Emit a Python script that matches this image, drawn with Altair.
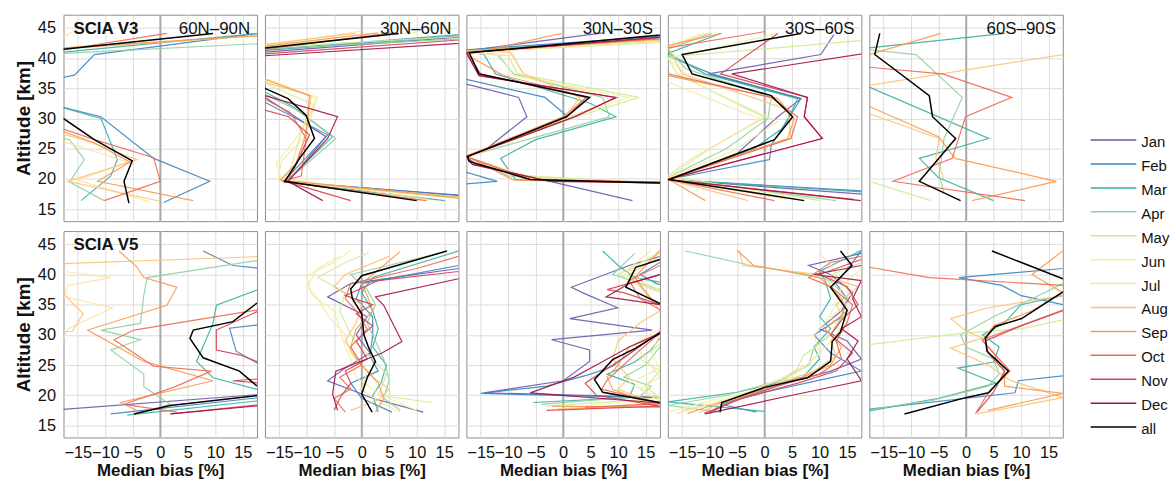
import altair as alt
import pandas as pd

# ---- categories and styling lists -------------------------------------------
months = ["Jan", "Feb", "Mar", "Apr", "May", "Jun", "Jul", "Aug", "Sep", "Oct", "Nov", "Dec", "all"]
month_colors = ["#6a58ad", "#3a84c0", "#3aae9f", "#8fd0a0", "#d2ea92", "#edf29c", "#fbe3a2",
                "#fcc372", "#f8984c", "#ec6a52", "#d5404f", "#a30f47", "#000000"]
regions = ["60N\u201390N", "30N\u201360N", "30N\u201330S", "30S\u201360S", "60S\u201390S"]
versions = ["SCIA V3", "SCIA V5"]
x_ticks = [-15, -10, -5, 0, 5, 10, 15]
y_ticks = [15, 20, 25, 30, 35, 40, 45]
zero_bias = [0]

# ---- median bias profiles: month -> [[bias %, altitude km], ...] -------------
v3_60n_90n = {
    "Feb": [[0.6, 16.1], [9.0, 19.6], [-1.2, 23.4], [-10.8, 30.3], [-17.5, 31.8], [-30, 33.0], [-30, 34.5], [-15.6, 37.2], [-12.0, 40.6], [22, 44.6]],
    "Mar": [[-14.4, 16.4], [-9.0, 20.5], [-7.8, 23.2], [-10.8, 30.0], [-18.0, 31.9], [-30, 33], [-30, 39], [-17.6, 41.0], [20, 44.3]],
    "Apr": [[-10.2, 16.4], [-16.5, 19.5], [-13.8, 23.2], [-16.5, 26.5], [-30, 29], [-30, 39], [-17.6, 40.8], [22, 42.6]],
    "Jul": [[-2, 16.2], [-15, 19.8], [-6, 22.8], [-17, 26], [-30, 28], [-30, 40], [-18, 43.2], [-16, 44.4]],
    "Aug": [[0, 16.3], [-16.8, 19.6], [-4.2, 23.2], [-14, 26.5], [-20, 28], [-30, 30], [-30, 39], [-17.6, 41.6], [22, 43.9]],
    "Sep": [[6.0, 16.4], [-11.4, 19.6], [-5.5, 22.8], [-12, 26], [-19, 28.3], [-30, 30], [-30, 39], [-17.6, 41.7], [22, 44.0]],
    "Oct": [[-10.2, 16.4], [0, 19.6], [-1.2, 23.5], [-12, 26.5], [-18, 28.4], [-30, 30], [-30, 39], [-17.6, 41.4], [1.2, 44.1]],
    "all": [[-5.7, 16.0], [-6.6, 19.6], [-5.1, 23.0], [-12, 26.5], [-17.6, 30.0], [-30, 32], [-30, 39], [-17.6, 41.5], [9.6, 44.1]],
}

v3_30n_60n = {
    "Jan": [[22, 17.0], [-14.0, 19.5], [-12, 21], [-6.5, 27.0], [-17.6, 33.5], [-30, 35], [-30, 39], [-17.6, 41.0], [22, 43.8]],
    "Feb": [[22, 16.9], [-14.2, 19.6], [-11.9, 21.8], [-6.2, 27.3], [-17.6, 32.7], [-30, 34], [-30, 39], [-17.6, 41.3], [22, 44.0]],
    "Mar": [[15.1, 16.4], [-14.4, 19.6], [-12.5, 20.7], [-5.3, 27.0], [-12.5, 32.0], [-17.6, 34.4], [-30, 36], [-30, 39], [-17.6, 41.4], [22, 44.2]],
    "Apr": [[10.5, 16.5], [-14.4, 19.6], [-11.5, 21.3], [-4.7, 26.7], [-12, 31.5], [-17.6, 34.0], [-30, 36], [-30, 39], [-17.6, 41.5], [22, 43.4]],
    "May": [[22, 16.7], [-14.6, 19.6], [-13, 21.5], [-10.8, 28.3], [-8.5, 32.2], [-17.6, 35.8], [-30, 37], [-30, 39], [-17.6, 41.8], [22, 43.8]],
    "Jun": [[17.5, 16.8], [-14.5, 19.6], [-15.5, 22.6], [-11.5, 27.3], [-8.0, 33.5], [-17.6, 36.3], [-30, 37.5], [-30, 39.5], [-17.6, 42.0], [10, 44.3]],
    "Jul": [[12, 16.6], [-15.2, 20.2], [-14.6, 22.9], [-10.1, 27.3], [-8.3, 33.2], [-9.5, 33.8], [-17.6, 36.7], [-30, 38], [-30, 39.5], [-17.6, 42.1], [0, 44.5]],
    "Aug": [[22, 16.4], [-14.0, 19.6], [-12, 22], [-10.4, 26.7], [-9.2, 33.8], [-17.6, 36.0], [-30, 37.5], [-30, 39.5], [-17.6, 42.3], [-1.1, 44.1]],
    "Sep": [[22, 16.5], [-14.8, 19.8], [-12, 22.5], [-10.1, 27.3], [-9.5, 33.8], [-17.6, 36.5], [-30, 37.5], [-30, 39.5], [-17.6, 42.0], [3, 44.2]],
    "Oct": [[11.8, 16.4], [-14.4, 19.6], [-11, 20.5], [-10.1, 26.7], [-13, 31], [-17.6, 33.2], [-30, 35], [-30, 39], [-17.6, 41.5], [5.5, 44.2]],
    "Nov": [[-2.0, 16.4], [-14.0, 19.6], [-12.5, 21.3], [-9.5, 27.3], [-13.3, 30.3], [-17.6, 31.4], [-30, 33], [-30, 39], [-17.6, 40.7], [22, 43.3]],
    "Dec": [[-7.1, 16.4], [-13.4, 19.6], [-6.2, 26.7], [-4.4, 30.3], [-17.6, 33.8], [-30, 35], [-30, 39], [-17.6, 40.4], [22, 42.7]],
    "all": [[10, 16.4], [-14, 19.6], [-11.3, 23.4], [-8.6, 26.7], [-10.1, 30.5], [-13.4, 33.3], [-17.6, 35.0], [-30, 36.5], [-30, 39.5], [-17.6, 41.7], [6.7, 44.1]],
}

v3_30n_30s = {
    "Jan": [[12.6, 16.4], [-2.4, 19.6], [-16, 22.5], [-17.6, 23.7], [-13.8, 25.1], [-6.6, 30.3], [-8.1, 33.5], [-17.6, 35.7], [-30, 37], [-30, 39.5], [-17.6, 41.2], [7.2, 44.2]],
    "Feb": [[-25, 18.6], [-12.0, 19.6], [-19, 21.5], [-17.6, 23.7], [-8, 27], [0.6, 30.5], [-3.3, 33.5], [-17.6, 36.5], [-30, 38], [-30, 39.5], [-17.6, 41.4], [22, 43.9]],
    "Mar": [[22, 19.2], [-8.7, 19.9], [-11.4, 23.4], [-5, 26.5], [9.6, 30.3], [5, 32.5], [-12.3, 37.4], [-14.4, 40.6], [-17.6, 41.3], [22, 43.4]],
    "Apr": [[22, 19.1], [-10, 20.5], [-17.6, 23.7], [8.4, 30.3], [7.2, 33.5], [-9, 37.4], [-12, 40.6], [-17.6, 41.0], [22, 43.2]],
    "May": [[22, 19.0], [-8, 20.6], [-17.6, 23.6], [2.5, 30.3], [13.8, 33.5], [-8.3, 37.4], [-10, 40.4], [-17.6, 41.0], [22, 42.8]],
    "Jun": [[22, 19.0], [-6, 20.3], [-17.6, 23.6], [0.6, 30.0], [12, 33.5], [-9, 37.1], [-11.4, 40.4], [-17.6, 41.0], [22, 43.1]],
    "Jul": [[22, 19.2], [-5, 20], [-17.6, 23.7], [1.2, 30.3], [9.6, 33.3], [-7.2, 37.1], [-9, 40.4], [-17.6, 41.0], [22, 42.9]],
    "Aug": [[22, 19.3], [-7, 20], [-17.6, 23.7], [0.3, 30.0], [3, 33.5], [-7.2, 37.4], [-9.6, 41.0], [-17.6, 41.2], [22, 43.3]],
    "Sep": [[22, 19.3], [-9, 19.8], [-17.6, 23.8], [0, 30.3], [4.2, 33.5], [-11, 37.2], [-17.6, 40.6], [-0.3, 44.1]],
    "Oct": [[22, 19.4], [-6, 19.9], [-17.6, 23.7], [0.6, 30.3], [4.2, 33.5], [-15, 37.4], [-17.6, 41.0], [22, 43.5]],
    "Nov": [[22, 19.4], [-3, 19.7], [-16.5, 22.4], [-17.6, 23.7], [2.1, 30.3], [9.6, 33.5], [-15.3, 37.1], [-17.6, 40.9], [22, 43.7]],
    "Dec": [[22, 19.3], [-2.4, 19.6], [-16.5, 22.4], [-17.6, 23.7], [2.1, 30.3], [9.6, 33.5], [-15.3, 37.1], [-17.6, 40.9], [22, 43.8]],
    "all": [[22, 19.2], [-6, 19.9], [-17.1, 22.9], [-17.4, 23.7], [0.6, 30.3], [4.8, 33.5], [-15.3, 37.4], [-17.1, 40.9], [22, 44.2]],
}

v3_30s_60s = {
    "Jan": [[22, 17.2], [-17.6, 19.9], [-5, 24.2], [2.4, 30.3], [6.6, 33.3], [-10.2, 37.4], [10.2, 40.6], [12.6, 43.9]],
    "Feb": [[22, 17.8], [-17.6, 19.9], [0.9, 23.2], [1.2, 25.6], [6.6, 33.3], [-9.6, 37.4], [-17.6, 40.4], [-25, 41.5]],
    "Mar": [[22, 17.6], [-17.6, 19.9], [-2, 25], [3.6, 28.6], [6, 33.3], [-10.8, 37.4], [-17.6, 40.8], [-8, 44.1]],
    "Apr": [[13, 16.4], [-17.6, 20.2], [-7, 25], [0.6, 30.0], [1.2, 33.5], [-14.4, 38.3], [-17.6, 41.5], [-9.6, 44.1]],
    "May": [[10, 16.4], [-17.6, 20.5], [-13.2, 23.4], [0, 30.2], [-16, 37.4], [-17.6, 40.2], [17.5, 42.9], [22, 43.2]],
    "Jun": [[7, 16.5], [-17.6, 20.2], [-6, 24.5], [2.4, 29.5], [-12, 35.6], [-17.6, 39.9], [2.4, 44.1]],
    "Jul": [[4, 16.6], [-17.6, 20.2], [-9.6, 25.2], [-0.6, 30.0], [-4, 31], [-17.6, 36.1], [-30, 38], [-17.6, 41.9], [-11, 44.2]],
    "Aug": [[-3.0, 16.4], [-17.6, 19.9], [4.8, 26.7], [4.2, 31.5], [-15, 37.4], [-17.6, 41.9], [-10.2, 44.1]],
    "Sep": [[-10.8, 16.4], [-17.6, 20.0], [4.2, 26.7], [5.4, 29.9], [2.4, 33.3], [-17.6, 37.1], [-30, 39], [-17.6, 42.1], [-7.8, 44.1]],
    "Oct": [[1.8, 16.4], [-17.6, 19.9], [4.8, 26.7], [6, 30.3], [1.2, 33.5], [-17.6, 37.4], [-30, 39], [-17.6, 41.7], [0, 44.4]],
    "Nov": [[16.2, 16.6], [-17.6, 19.9], [10.5, 26.7], [7.2, 30.3], [7.8, 33.5], [-8, 37.4], [2.4, 44.1]],
    "Dec": [[17.5, 16.4], [-17.6, 19.9], [10.5, 26.7], [7.2, 30.3], [7.8, 33.5], [-6, 37.4], [22, 41.3]],
    "all": [[7.2, 16.4], [-17.4, 19.9], [1.8, 26.5], [5.1, 30.3], [1.2, 33.8], [-13.2, 37.4], [-15, 40.6], [6.6, 44.1]],
}

v3_60s_90s = {
    "Mar": [[5, 16.4], [-5, 20.2], [-8.5, 23.4], [4.1, 26.7], [-17.6, 35.2], [-30, 38], [-30, 40], [-17.6, 41.7], [7.1, 44.1]],
    "Apr": [[-4, 17.5], [-4.9, 20.8], [-4.0, 26.7], [-0.7, 33.5], [-9.1, 40.6], [-17.6, 41.4], [-30, 42.5]],
    "May": [[-6.4, 16.4], [-17.6, 19.6], [-30, 21]],
    "Aug": [[-4, 20], [-5.5, 23.4], [-4.9, 26.7], [-17.6, 30.8], [-30, 32], [-30, 34], [-17.6, 35.5], [17.6, 40.6], [22, 41.2]],
    "Sep": [[1.1, 16.4], [16.4, 19.6], [-2.0, 23.4], [-5, 27], [-17.6, 32], [-30, 34], [-30, 39], [-17.6, 40.6], [-4.6, 44.1]],
    "Oct": [[10.7, 16.4], [-13.3, 19.6], [-2.5, 23.4], [-0.1, 30.3], [8.3, 33.5], [-4.3, 37.4], [-17.6, 38.5], [-30, 39.5]],
    "all": [[-1, 16.4], [-8.5, 19.6], [-1.9, 26.7], [-6.1, 30.3], [-6.7, 33.8], [-16.6, 40.6], [-15.7, 44.1]],
}

v5_60n_90n = {
    "Jan": [[-30, 16.8], [22, 20.4]],
    "Feb": [[-9, 16.9], [22, 20.0], [30, 24], [17.5, 25.4], [13.8, 27.3], [12.6, 31.1], [30, 33], [30, 40], [17.5, 41.1], [13.2, 41.5], [7.8, 43.9]],
    "Mar": [[-6, 16.7], [22, 19.5], [25, 20.5], [17.5, 21.0], [9.6, 22.9], [6.6, 25.6], [9.6, 31.9], [10.2, 34.9], [17.5, 37.4], [25, 39]],
    "Apr": [[-5, 16.8], [1.8, 18.5], [-3, 21.4], [-3, 23.5], [-9, 27.5], [-3.6, 29.2], [-10.8, 30.8], [-3.6, 31.9], [-3, 36.5], [-2.4, 39.5], [17.5, 42.3], [22, 42.5]],
    "Jul": [[-30, 19], [-17.6, 20.5], [-25, 22], [-30, 28], [-17.6, 29.5], [-16.8, 31.0], [-8.7, 34.5], [-17.4, 36.3], [-16.8, 38.2], [-9, 39.5], [-17.6, 40.5], [-25, 41]],
    "Aug": [[-30, 30], [-16, 30.6], [-14, 33.5], [-17.6, 36.8], [-30, 38], [-30, 41.4], [22, 43.1]],
    "Sep": [[-3, 16.9], [-7.2, 18.8], [9.6, 22.4], [-3, 25.6], [-13.2, 30.8], [1.2, 34.9], [3, 37.9], [-3, 39.5], [-4.2, 41.2], [-7.5, 43.9]],
    "Oct": [[3, 17.2], [-6.6, 18.5], [2.4, 21.3], [9.3, 24.0], [-1.2, 24.8], [-8.4, 29.2], [-4.8, 30.8], [17.5, 34.1], [25, 35.5]],
    "Nov": [[2, 16.9], [22, 18.8], [25, 21.5], [13.2, 22.4], [22, 23], [25, 25], [17.5, 25.6], [14.4, 26.7], [10.2, 27.5], [10.2, 30.8], [17.5, 33.8], [25, 35]],
    "Dec": [[1.8, 16.9], [22, 18.6], [30, 20]],
    "all": [[-4.8, 16.9], [1.8, 18.3], [22, 20.4], [25, 21.0], [17.5, 21.6], [14.4, 24.0], [7.8, 26.2], [5.4, 29.4], [6, 30.8], [13.2, 32.2], [17.5, 35.2], [25, 36.5]],
}

v5_30n_60n = {
    "Jan": [[11.2, 17.2], [2, 19.5], [-6.2, 22.4], [-3, 24.5], [1.5, 27], [-1, 30], [1, 33], [-6.2, 36.3], [-2, 38.5], [17.6, 41.0]],
    "Feb": [[5.5, 17.2], [0, 19.5], [-2, 22], [3, 24], [1.5, 26.5], [2, 30], [2, 33], [-1, 36], [0, 38.5], [17.6, 41.5]],
    "Mar": [[3, 17.2], [2, 20], [3.5, 22], [4.5, 25], [2, 28], [3, 31], [2, 34], [0, 37], [2, 39.5], [18, 44]],
    "Apr": [[7, 17.5], [4, 19.5], [5, 22.5], [4, 26], [2.5, 29], [1, 32], [2.5, 35], [1, 37.5], [-2, 40], [14, 43.5]],
    "May": [[12.7, 18.8], [3, 20], [4.5, 23.5], [2, 26], [-1, 28.5], [-2.5, 31], [-4, 34], [-3, 37], [-8, 39.5], [-3, 42], [1.3, 43.6]],
    "Jun": [[10, 17.5], [6, 19], [2, 21], [-1, 23], [-2, 26], [-3, 28], [-4, 31], [-5, 34], [-9, 36.5], [-10.1, 39.8], [-5, 42], [-2, 44]],
    "Jul": [[7, 17.2], [3, 19], [0, 21], [1, 24], [-2, 27], [-3, 30], [-6, 33], [-8, 36], [-10, 38], [-8, 41], [-4, 43]],
    "Aug": [[-2, 17.5], [3, 19.2], [5, 21], [2, 23], [-1, 26], [-3, 29], [-1, 32], [0, 35], [-5, 38], [-3, 40], [5, 43]],
    "Sep": [[2.5, 17.2], [4, 19.5], [3, 22], [0, 25], [-2, 28], [-1, 31], [2, 34], [1, 36.5], [0, 38.5], [7, 43.8]],
    "Oct": [[-3, 17.2], [-5, 19.5], [-2, 21], [-4, 23], [0, 25], [-2, 28], [1, 31], [-1, 34], [-3, 36], [-2, 38.5], [10, 41], [17.6, 43]],
    "Nov": [[-5, 17.5], [-4, 19.5], [-2, 22], [-3, 24], [1, 26], [-1, 29], [2, 31.5], [-1, 33.5], [2, 35], [-3, 36.5], [3, 39], [17.6, 40.5]],
    "Dec": [[-4.4, 17.5], [-5.3, 20.2], [-4.7, 24], [3.7, 27], [7.3, 28.9], [4, 34.9], [2.5, 36.3], [17.6, 39.3], [22, 40]],
    "all": [[1.9, 17.2], [0, 20.2], [1, 22.9], [2.5, 25.6], [1.3, 27.8], [0.4, 30], [0, 33.5], [-1.7, 36], [-2, 37.6], [0, 39.8], [15.5, 43.9]],
}

v5_30n_30s = {
    "Jan": [[25, 19.5], [-14.4, 20.4], [0, 22.4], [4.8, 25.6], [4.8, 27.5], [-2.1, 29.2], [16.2, 30.8], [1.2, 32.7], [9.9, 34.5], [4, 36.8], [1.5, 37.9], [12, 41.5], [17.6, 43]],
    "Feb": [[25, 19.4], [-15, 20.3], [-3, 21.5], [5, 23.5], [9, 24.8], [13, 27.5], [17.6, 30.5], [22, 32], [22, 37], [17, 38.5], [14, 40], [17.6, 42]],
    "Mar": [[-5.4, 18.8], [12, 19.6], [13, 21.8], [8, 23.5], [13, 25.5], [16, 27.5], [17.6, 29.5], [22, 31], [22, 38], [13, 39.5], [10, 41.5], [7.2, 43.9]],
    "Apr": [[-4, 18.5], [14, 19.8], [16, 21.5], [11, 23], [15, 25], [17.6, 28], [22, 30], [22, 35], [17.6, 37.5], [9, 40], [13, 43.5]],
    "May": [[-3, 18.2], [17.6, 19.5], [15, 21.5], [17.6, 24], [14, 26], [17.6, 28.5], [22, 30], [22, 36], [15, 38], [10, 40], [17.6, 43.5]],
    "Jun": [[0, 17.8], [17.6, 19.6], [12, 22], [17.6, 24.5], [16, 27], [17.6, 30], [22, 32], [22, 36], [17.6, 37.5], [11, 40], [17.6, 44]],
    "Jul": [[2, 17.5], [17.6, 19.0], [14, 21], [17.6, 23], [15, 26], [13, 28.5], [17.6, 31], [22, 33], [22, 36], [16, 37.5], [12, 41], [16, 44]],
    "Aug": [[-1, 17.7], [17.6, 18.5], [10, 21], [12, 23], [9, 26], [10, 29], [14, 32], [17.6, 34], [15, 37], [12, 40], [17.6, 43]],
    "Sep": [[-2, 18.2], [17.6, 18.0], [9, 21], [8, 23], [10, 25], [12, 28], [17.6, 30], [22, 33], [16, 36], [13, 39.5], [17.6, 44]],
    "Oct": [[4, 18], [17.6, 18.6], [7, 21], [8, 22.5], [11, 25], [14, 27.5], [17.6, 30.3], [22, 32], [14, 36], [12, 39], [17.6, 41.5]],
    "Nov": [[-3, 17.5], [17.6, 18.2], [6, 20], [4, 22], [9, 25], [13, 27.5], [17.6, 30.5], [22, 32], [17.6, 35], [11, 37], [8, 37.5], [17.6, 40]],
    "Dec": [[22, 18.4], [-6, 20.4], [2, 23], [7.2, 25.6], [12, 28], [17.6, 30.3], [22, 33], [17.6, 35], [7.8, 36.3], [12, 38.5], [17.6, 40], [22, 41]],
    "all": [[25, 18.5], [17.6, 18.8], [7.2, 20.5], [5.7, 22.6], [9, 25.9], [13.2, 27.8], [17.6, 30.3], [22, 32], [22, 34], [17.6, 35.2], [11.4, 37.9], [13.2, 41.2], [17.6, 42.5], [22, 43.5]],
}

v5_30s_60s = {
    "Jan": [[-10, 17.0], [-6, 19], [4, 22], [12, 24], [17.6, 26], [15, 29], [10, 31], [14, 34], [16, 37], [12, 40], [8, 41.5], [17.6, 43.5]],
    "Feb": [[-1.5, 17.2], [-8, 18.5], [0, 20.5], [10, 22.5], [17.6, 24], [12, 27], [9, 30], [14, 33], [15, 36], [13, 38.5], [17.6, 43.9]],
    "Mar": [[0, 17.3], [-17.6, 18.9], [-5, 20.5], [7, 23], [10, 26], [9, 28], [12, 31], [10, 33], [12, 36], [11, 39], [10, 40.5], [17.6, 44]],
    "Apr": [[-8, 17.2], [-17.6, 18.3], [-7, 20], [3, 22.5], [8, 25], [9, 28], [12, 30], [14, 33], [15, 36], [12, 39], [7.2, 40.1], [-2.4, 41.5], [-14.4, 43.9]],
    "May": [[-15, 17.5], [-5, 19.5], [3, 22], [6, 24.5], [7, 26.5], [10, 28.5], [13, 31], [15, 34], [13, 37], [11, 39.5], [17.6, 42]],
    "Jun": [[-17.6, 17.2], [-8, 19.5], [2, 21.5], [7, 24.5], [10, 27], [9, 30], [11, 32], [13, 35], [14, 38], [17.6, 41]],
    "Jul": [[-16, 17.0], [-10, 18.5], [-3, 20.5], [3, 22.8], [8, 25.2], [11, 28], [14, 30.5], [12, 33], [16, 36], [14, 39], [12, 41.5], [10, 43.5]],
    "Aug": [[-12, 17.1], [-7, 19], [1, 21.5], [9, 24], [13, 26.5], [12, 29], [15, 32], [13, 35], [17, 38], [10, 40], [-4, 41.5], [-4.6, 44]],
    "Sep": [[-14, 17.0], [-9, 18.5], [-2, 20.5], [7, 23], [12, 25], [14, 28], [11, 31], [15, 34], [14, 36], [10, 39.5], [-2, 41.5], [-5, 44]],
    "Oct": [[-10, 17.2], [-6, 19], [2, 21.5], [10, 23.5], [14, 26], [13, 29], [15, 32], [16, 35], [12, 38], [8, 39.5], [12, 42], [17.6, 43]],
    "Nov": [[-11, 17.0], [-4, 19.5], [6, 22], [13, 24], [16, 27], [12, 30], [14, 32.5], [17, 35], [15, 38], [10, 40], [17.6, 42.5]],
    "Dec": [[-10.8, 16.9], [5, 20], [17.6, 22.4], [15, 26], [17, 29], [14, 31], [17.6, 33], [16, 36], [17.6, 39], [9, 40], [17.6, 41.5]],
    "all": [[-8.1, 17.2], [-7.8, 18.8], [0, 21.3], [7.8, 22.9], [12, 25.6], [12.3, 28.9], [13.8, 30.5], [15, 34.1], [12, 37.9], [15.9, 41.5], [13.8, 43.9]],
}

v5_60s_90s = {
    "Feb": [[-25, 17.0], [-17.6, 17.7], [8.9, 20.4], [9.5, 22.4], [17.6, 23.2], [25, 24], [25, 34], [17.6, 35], [10, 36.5], [6.5, 38.2], [-1.3, 39.5], [17.6, 41], [22, 41.5]],
    "Mar": [[-17.6, 17.4], [-5, 19.5], [5.5, 22], [-1.5, 24.5], [5, 25.5], [6, 28], [3, 30], [7, 32], [10, 35], [17.6, 36.5], [22, 37]],
    "Apr": [[-17.6, 17.6], [-6, 19.2], [4, 21.5], [6, 23.5], [5, 26], [0, 28], [-1, 30], [5, 33], [12, 36], [17.6, 38.5]],
    "May": [[-25, 27.8], [-17.6, 28.4], [-0.7, 30.3], [10, 31], [17.6, 32.5]],
    "Aug": [[2, 16.9], [17.6, 19.6], [8, 22.5], [4, 25], [-2.8, 27.8], [3, 29.5], [0.2, 30.5], [-2.8, 32.7], [4, 34.5], [17.6, 36.5], [22, 37]],
    "Sep": [[4, 17.5], [17.6, 20.3], [7, 21.5], [7, 24], [5, 27], [3, 29], [5, 31.5], [12, 34], [17.6, 37], [12, 40], [17.6, 43.9]],
    "Oct": [[1.7, 16.9], [4.1, 20.5], [8, 24], [5, 27], [2.9, 29.2], [17.6, 34.1], [22, 35], [22, 37], [17.6, 38.2], [-6.7, 39.5], [-17.6, 41.2], [-25, 42]],
    "Nov": [[2, 17.2], [5, 20.5], [7, 24], [4, 27], [3.5, 29], [10, 31.5], [17.6, 34], [22, 35]],
    "all": [[-11.2, 16.9], [-0.1, 19.6], [4.1, 20.4], [7.7, 24], [3.8, 27.3], [3.5, 29.5], [5.3, 31.4], [10.1, 32.7], [17.6, 37.1], [22, 38.2], [17.6, 39.3], [4.7, 43.9]],
}

panel_rows = [
    [v3_60n_90n, v3_30n_60n, v3_30n_30s, v3_30s_60s, v3_60s_90s],
    [v5_60n_90n, v5_30n_60n, v5_30n_30s, v5_30s_60s, v5_60s_90s],
]

# ---- chart construction ---------------------------------------------------
FONT = "Liberation Sans"
PANEL_W, PANEL_H = 195, 208
color_scale = alt.Scale(domain=months, range=month_colors)


def profile_table(profiles):
    rows = []
    for month, points in profiles.items():
        for k, (bias, altitude) in enumerate(points):
            rows.append({"month": month, "bias": bias, "alt": altitude, "k": k})
    return pd.DataFrame(rows)


def make_panel(profiles, row, col):
    df = profile_table(profiles)
    bottom = row == 1
    left = col == 0
    x_enc = alt.X(
        "bias:Q",
        scale=alt.Scale(domain=[-17.6, 17.6], nice=False, zero=False),
        axis=alt.Axis(values=x_ticks, labels=bottom, title="Median bias [%]" if bottom else "",
                      labelPadding=7, titlePadding=2, titleFontSize=17, labelFontSize=16.5,
                      labelFlush=False, labelOverlap=False),
    )
    y_enc = alt.Y(
        "alt:Q",
        scale=alt.Scale(domain=[13, 47.2], nice=False, zero=False),
        axis=alt.Axis(values=y_ticks, labels=left, title="Altitude [km]" if left else "",
                      labelPadding=8, titlePadding=4, titleFontSize=19, labelFontSize=16.5,
                      labelFlush=False, labelOverlap=False),
    )
    # vertical reference line at zero bias
    zero = alt.Chart(pd.DataFrame({"bias": zero_bias})).mark_rule(
        color="#a9a9a9", strokeWidth=1.8
    ).encode(x=x_enc)
    base = alt.Chart(df).encode(
        x=x_enc, y=y_enc,
        color=alt.Color("month:N", scale=color_scale, legend=None),
        order=alt.Order("k:Q"),
    )
    monthly = base.transform_filter(alt.datum.month != "all").mark_line(
        clip=True, strokeWidth=1.2, opacity=0.9
    )
    overall = base.transform_filter(alt.datum.month == "all").mark_line(
        clip=True, strokeWidth=1.5
    )
    layers = [zero, monthly, overall]
    if left:
        layers.append(
            alt.Chart(pd.DataFrame({"label": [versions[row]]})).mark_text(
                align="left", baseline="middle", font=FONT, fontSize=17, fontWeight="bold", color="#111"
            ).encode(text="label:N", x=alt.value(10), y=alt.value(14))
        )
    if row == 0:
        layers.append(
            alt.Chart(pd.DataFrame({"label": [regions[col]]})).mark_text(
                align="right", baseline="middle", font=FONT, fontSize=17, color="#111"
            ).encode(text="label:N", x=alt.value(PANEL_W - 7), y=alt.value(14))
        )
    return alt.layer(*layers).properties(width=PANEL_W, height=PANEL_H)


grid_rows = [
    alt.hconcat(*[make_panel(p, r, c) for c, p in enumerate(panel_rows[r])], spacing=6)
    for r in range(2)
]
panels = alt.vconcat(*grid_rows, spacing=6)

# legend drawn as its own small chart: a short line plus label per month
legend_df = pd.DataFrame({"month": months, "idx": list(range(len(months)))})
leg_y = alt.Y("idx:Q", scale=alt.Scale(domain=[-5.24, 12.27], reverse=True, nice=False, zero=False), axis=None)
leg_lines = alt.Chart(legend_df).mark_rule(strokeWidth=1.5).encode(
    y=leg_y, x=alt.value(0), x2=alt.value(46),
    color=alt.Color("month:N", scale=color_scale, legend=None),
)
leg_text = alt.Chart(legend_df).mark_text(
    align="left", baseline="middle", font=FONT, fontSize=15, color="#111", dy=2
).encode(y=leg_y, x=alt.value(51), text="month:N")
legend = alt.layer(leg_lines, leg_text).properties(
    width=80, height=2 * PANEL_H + 6, view=alt.ViewBackground(stroke="transparent")
)

chart = alt.hconcat(panels, legend, spacing=25).configure(
    font=FONT, padding={"left": 14, "top": 11, "right": 0, "bottom": 0}, background="white"
).configure_axis(
    grid=True, gridColor="#dcdcdc", gridWidth=1, domain=False, ticks=False,
    labelFont=FONT, labelColor="#111", labelOverlap=False,
    titleFont=FONT, titleFontWeight="bold", titleColor="#111",
).configure_view(stroke="#8f8f8f", strokeWidth=1)

chart.save("out.html", embed_options={"renderer": "svg", "actions": False})
